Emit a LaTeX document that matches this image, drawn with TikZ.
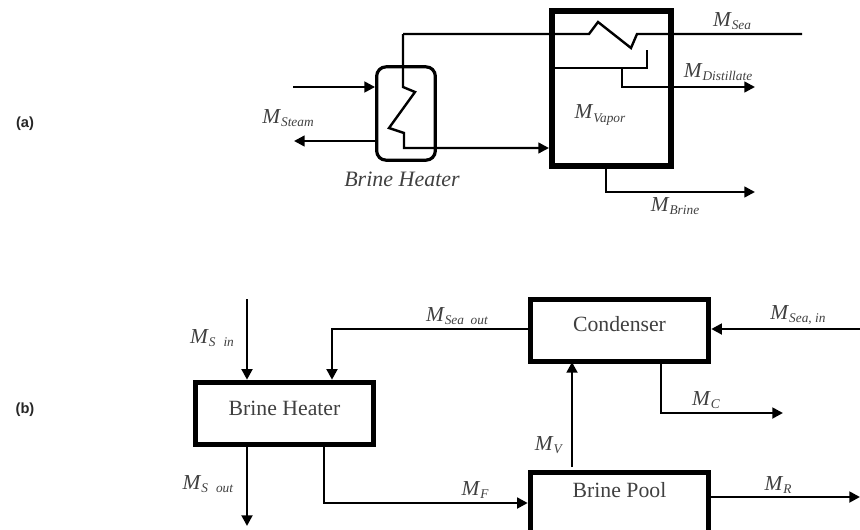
\documentclass[tikz,border=0pt]{standalone}
\usepackage{fontspec}
\setmainfont{Liberation Serif}
\newfontfamily\labfont{Liberation Sans}
\usetikzlibrary{arrows.meta}
\definecolor{txt}{gray}{0.25}
\newcommand{\flow}[2]{\textit{#1}\raisebox{-0.16em}{\fontsize{10pt}{11pt}\selectfont\textit{#2}}}
\tikzset{
  x=0.75pt,y=-0.75pt,
  every node/.style={text=txt,inner sep=0pt,font=\fontsize{13pt}{15pt}\selectfont},
  block/.style={draw=black,fill=white,line width=3.6pt,minimum height=47pt,minimum width=134pt,font=\fontsize{16.3pt}{18pt}\selectfont},
  vessel/.style={draw=black,line width=4.8pt,minimum width=89pt,minimum height=116pt},
  heaterbox/.style={draw=black,line width=2.4pt,rounded corners=7pt,minimum width=44pt,minimum height=70pt},
  pipe/.style={draw=black,line width=1.8pt},
  stream/.style={pipe,-{Triangle[length=8pt,width=8pt]}},
  bstream/.style={draw=black,line width=2.2pt,-{Triangle[length=8pt,width=8pt]}},
  flab/.style={font=\fontsize{16pt}{18pt}\selectfont},
  tag/.style={font=\labfont\bfseries\fontsize{11pt}{13pt}\selectfont,text=black!85}
}
\begin{document}
\begin{tikzpicture}
\useasboundingbox (0,0) rectangle (860,529);
% ---- (a)
\node[tag] (taga) at (25,124) {(a)};
\node[heaterbox] (hb) at (406,113.5) {};
\node[vessel] (ves) at (611.5,88.5) {};
\coordinate (seaend) at (802,34);
\coordinate (steamin) at (293,87);
\coordinate (steamout) at (294,141);
\coordinate (distend) at (755,87);
\coordinate (brineend) at (755,192);
\coordinate (tray) at (552,68);
\coordinate (trayend) at (647,68);
\draw[stream] (steamin) -- (steamin -| hb.west);
\draw[stream] (steamout -| hb.west) -- (steamout);
\draw[stream] (403,34) -- (403,87) -- (415,92) -- (389,128) -- (404,133) -- (404,148) -- (ves.west |- 0,148);
\draw[pipe] (403,34) -- (589,34) -- (598,22) -- (631,48) -- (637,34) -- (seaend);
\draw[pipe] (tray) -- (trayend) -- (647,50);
\draw[stream] (622,68) -- (622,87) -- (distend);
\draw[stream] (606,166) -- (606,192) -- (brineend);
\node[flab] (lsteam) at (288,118) {\flow{M}{Steam}};
\node[font=\fontsize{16.5pt}{18pt}\selectfont\itshape] (lbh) at (402,179) {Brine Heater};
\node[flab] (lvap) at (600,115) {\flow{M}{Vapor}};
\node[flab] (lsea) at (732,21) {\flow{M}{Sea}};
\node[flab] (ldist) at (718,72) {\flow{M}{Distillate}};
\node[flab] (lbrine) at (675,206) {\flow{M}{Brine}};
% ---- (b)
\node[tag] (tagb) at (25,410) {(b)};
\node[block] (bbh) at (284.5,413.5) {\raisebox{8.5pt}{Brine Heater}};
\node[block] (con) at (619.5,330.5) {\raisebox{10.5pt}{Condenser}};
\node[block,anchor=north] (pool) at (619.5,470) {\raisebox{20pt}{Brine Pool}};
\coordinate (sin) at (247,299);
\coordinate (sout) at (247,526);
\coordinate (seaout) at (332,329);
\coordinate (feed) at (324,503);
\coordinate (seain) at (860,329);
\coordinate (cond) at (661,413);
\coordinate (condend) at (783,413);
\coordinate (rej) at (860,497);
\draw[bstream] (sin) -- (sin |- bbh.north);
\draw[bstream] (sout |- bbh.south) -- (sout);
\draw[bstream] (con.west |- seaout) -- (seaout) -- (seaout |- bbh.north);
\draw[bstream] (feed |- bbh.south) -- (feed) -- (feed -| pool.west);
\draw[bstream] (572,467) -- (572,362);
\draw[bstream] (seain) -- (seain -| con.east);
\draw[bstream] (cond |- con.south) -- (cond) -- (condend);
\draw[bstream] (rej -| pool.east) -- (rej);
\node[flab] (lsi) at (212,338) {\flow{M}{S\hspace{6pt}in}};
\node[flab] (lso) at (208,484) {\flow{M}{S\hspace{6pt}out}};
\node[flab] (lsao) at (457,316) {\flow{M}{Sea\hspace{5pt}out}};
\node[flab] (lf) at (475,490) {\flow{M}{F}};
\node[flab] (lv) at (549,445) {\flow{M}{V}};
\node[flab] (lc) at (706,400) {\flow{M}{C}};
\node[flab] (lr) at (778,485) {\flow{M}{R}};
\node[flab] (lsai) at (798,315) {\flow{M}{Sea, in}};
\end{tikzpicture}
\end{document}
